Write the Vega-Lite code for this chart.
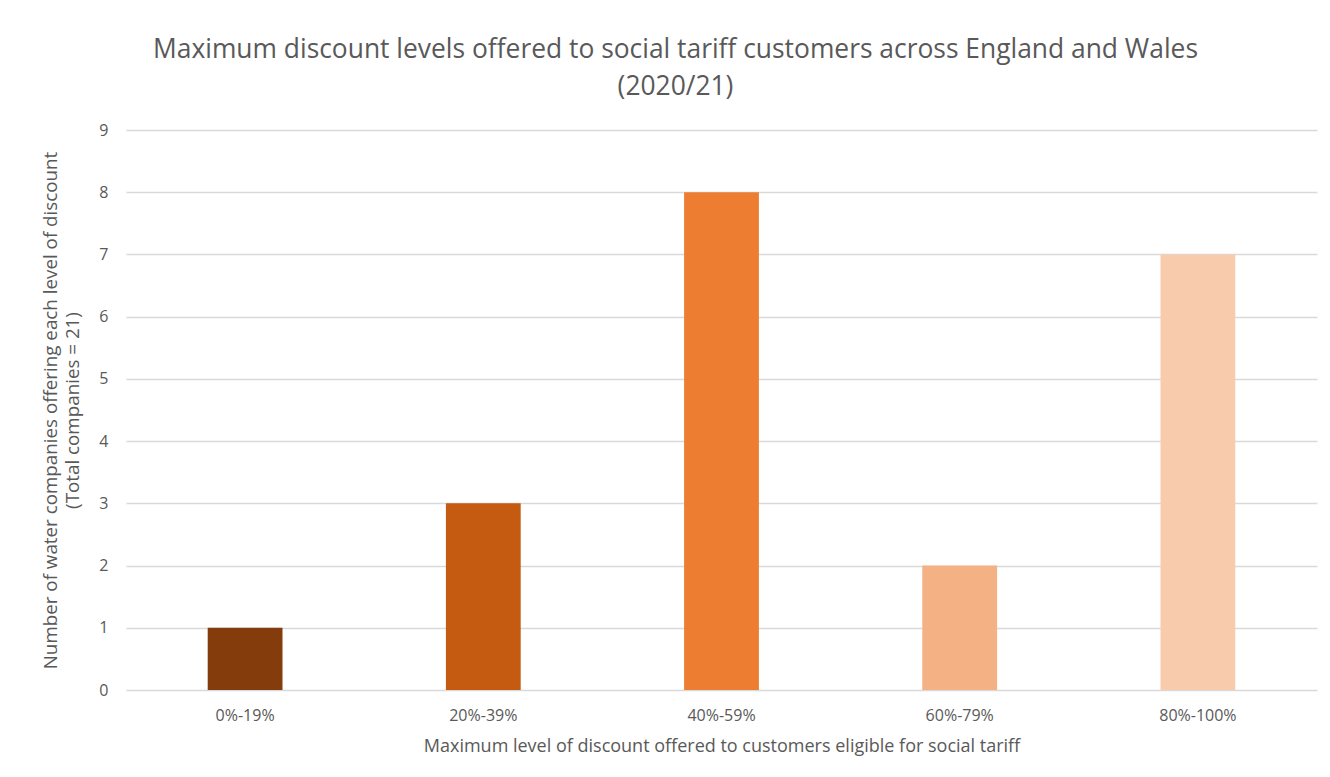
{
  "$schema": "https://vega.github.io/schema/vega-lite/v6.json",
  "autosize": "none",
  "width": 1191,
  "height": 560,
  "padding": {"left": 126, "top": 130, "right": 13, "bottom": 87},
  "background": "white",
  "title": {
    "text": ["Maximum discount levels offered to social tariff customers across England and Wales", "(2020/21)"],
    "anchor": "middle",
    "dx": -46,
    "offset": 22,
    "font": "Open Sans",
    "fontSize": 26.4,
    "fontWeight": "normal",
    "color": "#595959",
    "lineHeight": 37
  },
  "data": {
    "values": [
      {"level": "0%-19%", "count": 1, "colour": "#843C0C"},
      {"level": "20%-39%", "count": 3, "colour": "#C55A11"},
      {"level": "40%-59%", "count": 8, "colour": "#ED7D31"},
      {"level": "60%-79%", "count": 2, "colour": "#F4B183"},
      {"level": "80%-100%", "count": 7, "colour": "#F8CBAD"}
    ]
  },
  "mark": {"type": "bar"},
  "encoding": {
    "x": {
      "field": "level",
      "type": "nominal",
      "sort": null,
      "scale": {"paddingInner": 0.686, "paddingOuter": 0.343},
      "axis": {
        "title": "Maximum level of discount offered  to customers eligible for social tariff",
        "labelAngle": 0,
        "labelFont": "Open Sans",
        "labelFontSize": 16,
        "labelColor": "#595959",
        "labelPadding": 17,
        "titleFont": "Open Sans",
        "titleFontSize": 18,
        "titleFontWeight": "normal",
        "titleColor": "#595959",
        "titlePadding": 14,
        "ticks": false,
        "domain": false,
        "grid": false
      }
    },
    "y": {
      "field": "count",
      "type": "quantitative",
      "scale": {"domain": [0, 9]},
      "axis": {
        "title": ["Number of water companies offering each level of discount", "(Total companies = 21)"],
        "values": [0, 1, 2, 3, 4, 5, 6, 7, 8, 9],
        "labelFont": "Open Sans",
        "labelFontSize": 16,
        "labelColor": "#595959",
        "labelPadding": 18,
        "titleFont": "Open Sans",
        "titleFontSize": 18.8,
        "titleFontWeight": "normal",
        "titleColor": "#595959",
        "titlePadding": 16,
        "titleLineHeight": 22,
        "ticks": false,
        "domain": false,
        "grid": true,
        "gridColor": "#D9D9D9",
        "gridWidth": 1.5
      }
    },
    "color": {"field": "colour", "type": "nominal", "scale": null, "legend": null}
  },
  "config": {"view": {"stroke": null}}
}
